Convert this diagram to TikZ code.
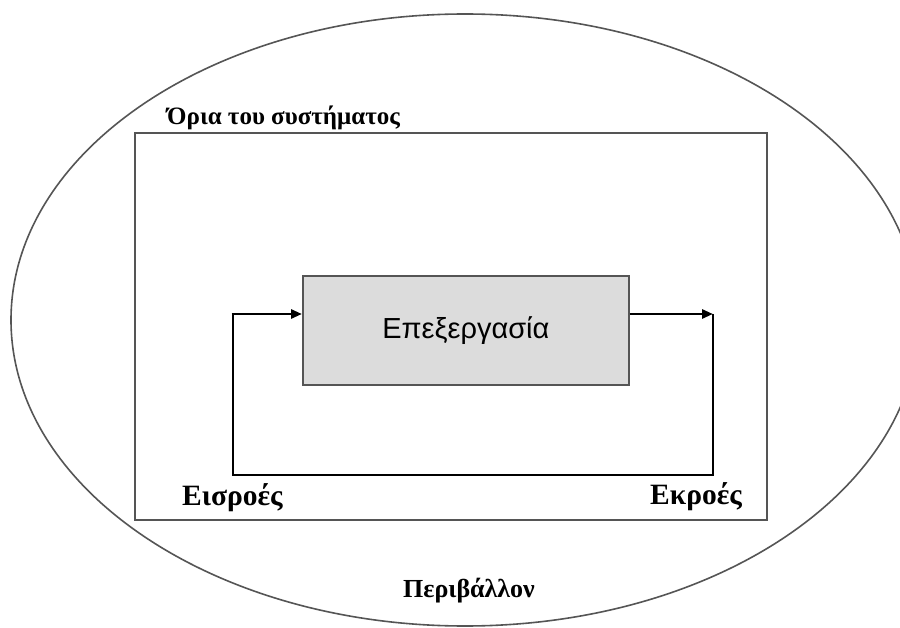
\documentclass[tikz,border=0pt]{standalone}
\usepackage{fontspec}
\setmainfont{Liberation Serif}
\newfontfamily\labelsans{Liberation Sans}
\usetikzlibrary{arrows.meta}
\definecolor{edgegray}{HTML}{555555}
\definecolor{procfill}{HTML}{DCDCDC}
\tikzset{
  outline/.style={draw=edgegray, line width=1.8pt},
  flow/.style={draw=black, line width=2.8pt},
  flowarrow/.style={flow, -{Triangle[length=11pt,width=9pt]}},
  tag/.style={inner sep=0pt, anchor=base west, font=\bfseries},
}
\begin{document}
\begin{tikzpicture}[x=1pt,y=-1pt]
  \useasboundingbox (0,0) rectangle (900,628);
  \fill[white] (0,0) rectangle (900,628);
  \clip (0,0) rectangle (900,628);

  % environment and system boundary
  \draw[outline, line width=1.6pt] (465,320) ellipse [x radius=454, y radius=306];
  \draw[outline] (135,133) rectangle (767,520);

  % processing block
  \node[outline, fill=procfill, minimum width=326pt, minimum height=109pt,
        inner sep=0pt, anchor=north west] (proc) at (302,275)
        {\labelsans\fontsize{29}{32}\selectfont Επεξεργασία};

  % feedback loop
  \coordinate (outc) at (713,314);
  \coordinate (br) at (713,475);
  \coordinate (bl) at (233,475);
  \coordinate (inc) at (233,314);
  \draw[flowarrow] (proc.east |- outc) -- (outc);
  \draw[flow, line join=miter] (outc) -- (br) -- (bl) -- (inc);
  \draw[flowarrow] ([xshift=-1.4pt]inc) -- (proc.west |- inc);

  % labels
  \node[tag, font=\bfseries\fontsize{25}{28}\selectfont] (bound) at (167,125) {Όρια του συστήματος};
  \node[tag, font=\bfseries\fontsize{29.5}{32}\selectfont] (inlab) at (182,505) {Εισροές};
  \node[tag, font=\bfseries\fontsize{29.5}{32}\selectfont] (outlab) at (650,504) {Εκροές};
  \node[tag, font=\bfseries\fontsize{26}{29}\selectfont] (env) at (403,597) {Περιβάλλον};
\end{tikzpicture}
\end{document}
